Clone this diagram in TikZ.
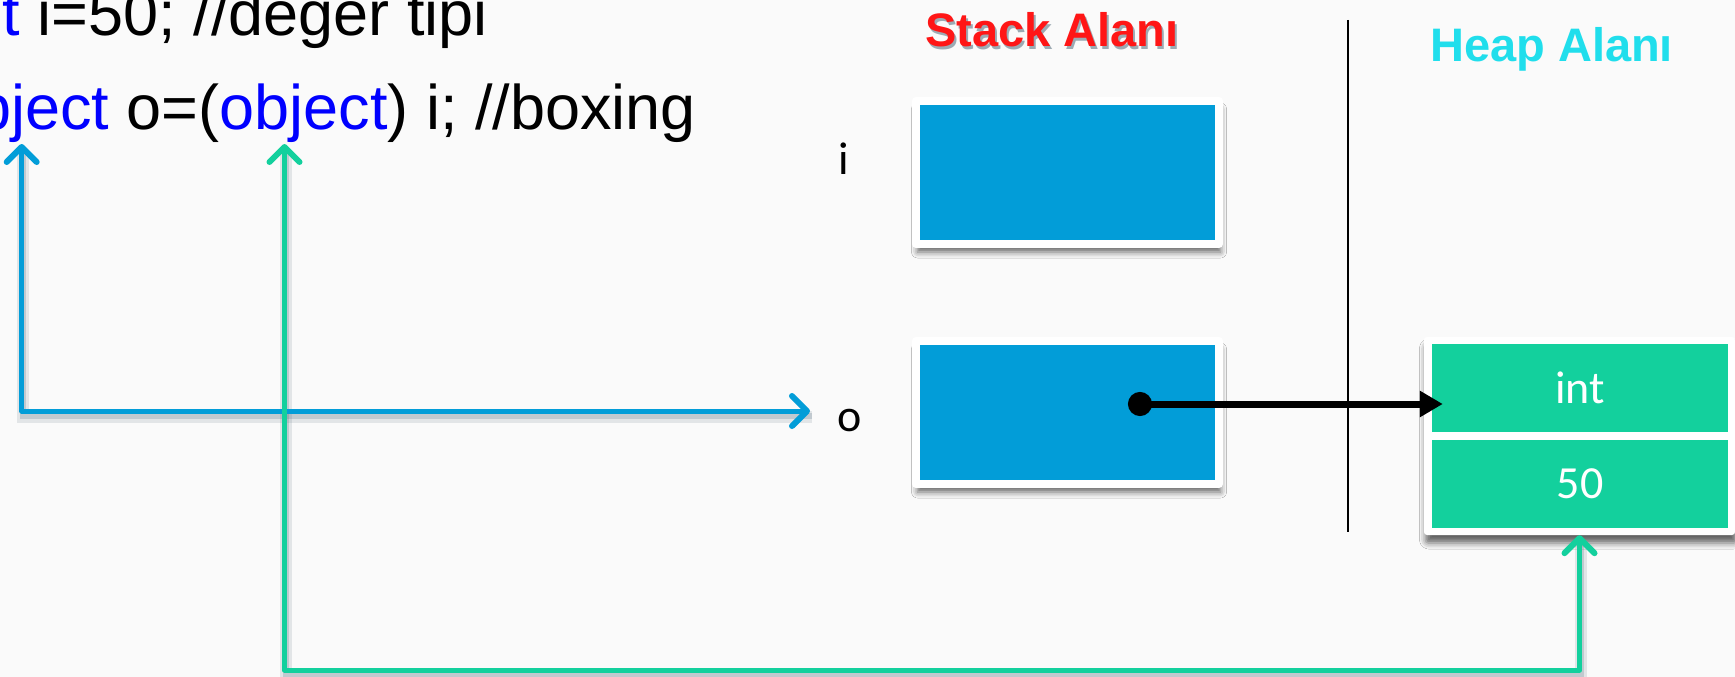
\documentclass[tikz,border=0pt]{standalone}
\usepackage{fontspec}
\setmainfont{Liberation Sans}
\newfontfamily\labelfont{Carlito}
\usetikzlibrary{arrows.meta,calc,shadows.blur}

\definecolor{stackblue}{RGB}{2,157,216}
\definecolor{heapgreen}{RGB}{19,208,157}
\definecolor{kwblue}{RGB}{0,0,255}
\definecolor{titlered}{RGB}{255,22,22}
\definecolor{titlecyan}{RGB}{32,222,236}
\definecolor{shadowgray}{RGB}{80,105,122}
\definecolor{paper}{RGB}{250,250,250}

\begin{document}
\begin{tikzpicture}[x=1pt,y=-1pt,
  code/.style={font=\fontsize{63}{70}\selectfont, inner sep=0pt, anchor=base west},
  lbl/.style={font=\labelfont\fontsize{46}{50}\selectfont, inner sep=0pt, anchor=base},
  title/.style={font=\bfseries\fontsize{47}{50}\selectfont, inner sep=0pt, anchor=base west},
  softshadow/.style={blur shadow={shadow xshift=1.5pt, shadow yshift=-8pt,
      shadow blur radius=6pt, shadow opacity=60}},
  stackbox/.style={fill=stackblue, draw=white, line width=8pt, line join=round,
      minimum width=303pt, minimum height=143pt, inner sep=0pt, softshadow},
  heapframe/.style={fill=white, rounded corners=3pt, minimum width=311pt,
      minimum height=198pt, inner sep=0pt, softshadow},
  heapcell/.style={fill=heapgreen, text=white, minimum width=296pt,
      minimum height=88pt, inner sep=0pt, font=\labelfont\fontsize{46}{50}\selectfont},
  barb/.tip={Straight Barb[length=15pt,width=30pt,line width=6pt,round]},
  conbase/.style={line width=5pt, line cap=round, line join=round, barb-barb},
  bluecon/.style={conbase, draw=stackblue},
  greencon/.style={conbase, draw=heapgreen},
  conshadowwide/.style={draw=shadowgray, draw opacity=0.14, line width=12pt,
      transform canvas={xshift=1.5pt, yshift=-6pt}},
  conshadow/.style={draw=shadowgray, draw opacity=0.22, line width=6pt,
      transform canvas={xshift=1.5pt, yshift=-5pt}},
  pointer/.style={line width=7pt, draw=black,
      {Circle[length=24pt]}-{Triangle[length=23pt,width=25pt]}},
  divider/.style={line width=2pt, draw=black}
]
% page and background
\clip (0,0) rectangle (1735,677);
\fill[paper] (0,0) rectangle (1735,677);

% source code
\node[code] (line1) at (-46.5,36) {\textcolor{kwblue}{int} i=50; //değer tipi};
\node[code] (line2) at (-59,129) {\textcolor{kwblue}{object} o=(\textcolor{kwblue}{object}) i; //boxing};

% titles
\node[title, text=shadowgray, opacity=0.55] (stackshade) at (927,50) {Stack Alanı};
\node[title, text=titlered] (stacktitle) at (925,47) {Stack Alanı};
\node[title, text=titlecyan] (heaptitle) at (1430,62) {Heap Alanı};

% divider between stack and heap
\coordinate (divtop) at (1348,20);
\coordinate (divbot) at (1348,532);
\draw[divider] (divtop) -- (divbot);

% stack slots
\node[stackbox] (slotI) at (1067.5,172.5) {};
\node[stackbox] (slotO) at (1067.5,412.5) {};
\node[lbl] (nameI) at (844,174) {i};
\node[lbl] (nameO) at (850,431) {o};

% boxed value on the heap
\node[heapframe] (heap) at (1579.5,436) {};
\node[heapcell] (cellType) at (1580,388) {int};
\node[heapcell] (cellVal) at (1580,484) {50};

% connector anchors under the code
\coordinate (refA) at (21.7,144);
\coordinate (refB) at (284.5,144);
\coordinate (oTip) at (810,411);
\coordinate (gBend) at (284.5,670);
\coordinate (ptr) at (1128,404);

% connector shadows
\draw[conshadowwide] (refA) |- (oTip);
\draw[conshadow] (refA) |- (oTip);
\draw[conshadowwide] (refB) -- (gBend) -| (heap.south);
\draw[conshadow] (refB) -- (gBend) -| (heap.south);

% connectors
\draw[bluecon] (refA) |- (oTip);
\draw[greencon] (refB) -- (gBend) -| (heap.south);
\draw[pointer] (ptr) -- ($(cellType.west |- ptr)+(11,0)$);
\end{tikzpicture}
\end{document}
